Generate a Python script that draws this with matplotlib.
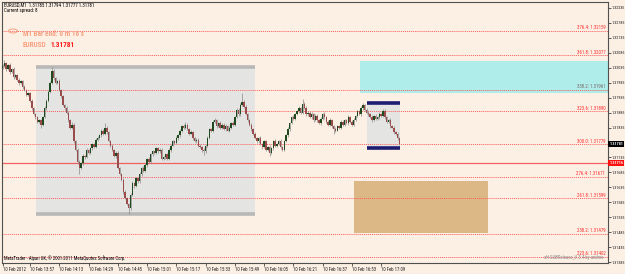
import numpy as np
import matplotlib
matplotlib.use('Agg')
import matplotlib.pyplot as plt
import matplotlib.transforms as mtransforms
from matplotlib import font_manager
from matplotlib.patches import Rectangle

# EURUSD M1, 10 Feb 2012, 13:42 .. 17:19 (one value per bar)
close = [
    1.32040, 1.32050, 1.32030, 1.32045, 1.32020, 1.32030, 1.32005, 1.32010, 1.31995, 1.31985,
    1.31990, 1.31970, 1.31960, 1.31945, 1.31950, 1.31925, 1.31900, 1.31880, 1.31870, 1.31855,
    1.31860, 1.31845, 1.31870, 1.31900, 1.31925, 1.31955, 1.31985, 1.32025, 1.32000, 1.31985,
    1.31990, 1.31960, 1.31940, 1.31910, 1.31900, 1.31885, 1.31860, 1.31835, 1.31845, 1.31790,
    1.31760, 1.31720, 1.31700, 1.31715, 1.31740, 1.31735, 1.31760, 1.31750, 1.31765, 1.31780,
    1.31770, 1.31795, 1.31800, 1.31810, 1.31825, 1.31815, 1.31835, 1.31820, 1.31790, 1.31775,
    1.31760, 1.31740, 1.31750, 1.31700, 1.31680, 1.31660, 1.31620, 1.31600, 1.31580, 1.31565,
    1.31610, 1.31650, 1.31640, 1.31665, 1.31655, 1.31680, 1.31700, 1.31690, 1.31710, 1.31730,
    1.31720, 1.31745, 1.31755, 1.31750, 1.31765, 1.31755, 1.31760, 1.31730, 1.31735, 1.31745,
    1.31730, 1.31760, 1.31775, 1.31790, 1.31785, 1.31800, 1.31810, 1.31825, 1.31840, 1.31835,
    1.31845, 1.31830, 1.31815, 1.31820, 1.31800, 1.31790, 1.31795, 1.31775, 1.31770, 1.31760,
    1.31755, 1.31775, 1.31800, 1.31830, 1.31825, 1.31855, 1.31860, 1.31840, 1.31850, 1.31835,
    1.31845, 1.31830, 1.31840, 1.31825, 1.31835, 1.31850, 1.31845, 1.31870, 1.31895, 1.31880,
    1.31910, 1.31920, 1.31905, 1.31880, 1.31860, 1.31845, 1.31830, 1.31815, 1.31800, 1.31790,
    1.31800, 1.31780, 1.31770, 1.31790, 1.31760, 1.31770, 1.31750, 1.31765, 1.31790, 1.31775,
    1.31780, 1.31790, 1.31770, 1.31760, 1.31790, 1.31810, 1.31830, 1.31850, 1.31870, 1.31865,
    1.31880, 1.31890, 1.31900, 1.31885, 1.31915, 1.31900, 1.31880, 1.31885, 1.31870, 1.31880,
    1.31860, 1.31875, 1.31860, 1.31850, 1.31865, 1.31880, 1.31870, 1.31855, 1.31845, 1.31860,
    1.31840, 1.31830, 1.31825, 1.31840, 1.31835, 1.31855, 1.31845, 1.31860, 1.31850, 1.31870,
    1.31855, 1.31845, 1.31860, 1.31875, 1.31890, 1.31880, 1.31900, 1.31910, 1.31895, 1.31885,
    1.31880, 1.31870, 1.31860, 1.31875, 1.31865, 1.31870, 1.31880, 1.31875, 1.31890, 1.31870,
    1.31855, 1.31860, 1.31840, 1.31835, 1.31820, 1.31815, 1.31800, 1.31781,
]
first_open = 1.32035

# wick lengths above / below the body, in points (1e-5)
upper_wick = [
    6, 11, 5, 4, 7, 3, 6, 5, 4, 6,   5, 4, 6, 3, 5, 4, 6, 5, 3, 4,
    5, 4, 3, 6, 5, 4, 7, 13, 6, 5,   4, 6, 5, 3, 4, 6, 5, 4, 7, 5,
    4, 6, 5, 4, 6, 3, 5, 4, 6, 5,    4, 5, 6, 3, 5, 4, 15, 6, 5, 4,
    5, 4, 6, 5, 3, 4, 6, 5, 4, 3,    6, 5, 4, 6, 3, 5, 4, 6, 5, 4,
    5, 4, 6, 3, 5, 4, 6, 5, 4, 3,    5, 6, 4, 5, 3, 6, 4, 5, 4, 6,
    8, 5, 4, 6, 3, 5, 4, 6, 5, 4,    5, 4, 6, 5, 3, 4, 6, 5, 4, 6,
    5, 4, 6, 3, 5, 4, 6, 5, 4, 6,    8, 30, 6, 5, 4, 3, 5, 4, 6, 5,
    4, 6, 5, 3, 5, 4, 6, 5, 4, 6,    5, 4, 6, 3, 5, 4, 6, 5, 4, 6,
    5, 4, 6, 5, 15, 4, 6, 5, 4, 6,   5, 4, 6, 3, 5, 4, 6, 5, 4, 6,
    5, 4, 6, 3, 5, 4, 6, 5, 4, 6,    5, 4, 6, 3, 5, 4, 6, 7, 4, 6,
    5, 4, 6, 3, 5, 4, 6, 5, 8, 6,    5, 4, 6, 3, 5, 4, 6, 4,
]
lower_wick = [
    5, 4, 6, 3, 5, 4, 6, 5, 4, 6,    4, 5, 3, 6, 4, 5, 6, 4, 5, 6,
    4, 12, 5, 4, 6, 3, 5, 4, 6, 5,   5, 4, 6, 3, 5, 4, 6, 5, 4, 6,
    5, 6, 20, 4, 5, 6, 3, 5, 4, 6,   5, 4, 6, 3, 5, 4, 6, 5, 4, 6,
    4, 5, 6, 3, 5, 4, 6, 5, 4, 19,   5, 4, 6, 3, 5, 4, 6, 5, 4, 6,
    5, 4, 6, 3, 5, 4, 6, 5, 4, 6,    5, 4, 6, 3, 5, 4, 6, 5, 4, 6,
    5, 4, 6, 3, 5, 4, 6, 5, 4, 6,    12, 4, 6, 3, 5, 4, 6, 5, 4, 6,
    5, 4, 6, 3, 5, 4, 6, 5, 4, 6,    5, 4, 6, 3, 5, 4, 6, 5, 4, 6,
    5, 4, 6, 3, 5, 4, 10, 5, 4, 6,   5, 4, 6, 3, 5, 4, 6, 5, 4, 6,
    5, 4, 6, 3, 5, 4, 6, 5, 4, 6,    5, 4, 6, 3, 5, 4, 6, 5, 4, 6,
    5, 15, 6, 3, 5, 4, 6, 5, 4, 6,   5, 4, 6, 3, 5, 4, 6, 5, 4, 6,
    5, 4, 6, 3, 5, 4, 6, 5, 4, 6,    5, 4, 6, 3, 5, 4, 6, 3,
]

# fibo expansion levels drawn by the indicator
fib_names = ["376.4", "361.8", "338.2", "323.6", "300.0", "276.4", "261.8", "238.2", "223.6"]
fib_prices = [1.32159, 1.32077, 1.31961, 1.31890, 1.31779, 1.31671, 1.31599, 1.31479, 1.31402]

# x axis: one label every 16 bars
time_labels = ["10 Feb 2012", "10 Feb 13:57", "10 Feb 14:13", "10 Feb 14:29", "10 Feb 14:45",
               "10 Feb 15:01", "10 Feb 15:17", "10 Feb 15:33", "10 Feb 15:49", "10 Feb 16:05",
               "10 Feb 16:21", "10 Feb 16:37", "10 Feb 16:53", "10 Feb 17:09"]
time_label_bars = [0, 15, 31, 47, 63, 79, 95, 111, 127, 143, 159, 175, 191, 207]

price_ticks = [1.31385, 1.31435, 1.31485, 1.31535, 1.31585, 1.31635, 1.31685, 1.31735,
               1.31785, 1.31835, 1.31885, 1.31935, 1.31985, 1.32035, 1.32085, 1.32135,
               1.32185, 1.32235]

bid_price = 1.31781
red_line_price = 1.31716

# zones: (bar_start, bar_end, price_low, price_high)
range_box = (18.3, 138.0, 1.31546, 1.32038)
small_box = (199.2, 217.2, 1.31766, 1.31917)
cyan_zone = (195.4, 331.0, 1.31950, 1.32058)
tan_zone = (192.1, 265.3, 1.31482, 1.31656)

# MT4 draws with a narrow pixel font, pick the narrowest family we have
installed = {f.name for f in font_manager.fontManager.ttflist}
narrow = 'DejaVu Sans'
for name in ['Liberation Sans Narrow', 'DejaVu Sans Condensed', 'Roboto Condensed']:
    if name in installed:
        narrow = name
        break
plt.rcParams['font.family'] = [narrow, 'DejaVu Sans']

BG = '#fcefe4'
W, H = 625, 274

fig = plt.figure(figsize=(W / 100, H / 100), dpi=100, facecolor=BG)
ax = fig.add_axes([2 / W, 11 / H, 606 / W, 261 / H], facecolor=BG)

ax.set_xlim(-0.3, 331)
ax.set_ylim(1.31382, 1.32255)

# zones first, under the candles
x0, x1, lo, hi = range_box
ax.add_patch(Rectangle((x0, lo), x1 - x0, hi - lo, facecolor='#e4e4e2', edgecolor='none', zorder=1))
ax.hlines([lo, hi], x0, x1, colors='#b8b8b8', linewidth=2.6, zorder=2)

x0, x1, lo, hi = cyan_zone
ax.add_patch(Rectangle((x0, lo), x1 - x0, hi - lo, facecolor='#aeedea', edgecolor='none', zorder=1))

x0, x1, lo, hi = tan_zone
ax.add_patch(Rectangle((x0, lo), x1 - x0, hi - lo, facecolor='#dcb887', edgecolor='none', zorder=1))

x0, x1, lo, hi = small_box
ax.add_patch(Rectangle((x0, lo), x1 - x0, hi - lo, facecolor='#e4e4e2', edgecolor='none', zorder=1))
ax.hlines([lo, hi], x0, x1, colors='#1c1c70', linewidth=2.6, zorder=4)

# fibo lines and their labels
for name, p in zip(fib_names, fib_prices):
    ax.axhline(p, color='#ff5a5a', linewidth=0.7, linestyle=(0, (1, 1)), zorder=2)
    col = '#7a6a6a' if name == "338.2" else '#ff3030'
    ax.text(329.5, p + 0.00002, f"{name}: {p:.5f}", fontsize=3.5, color=col,
            ha='right', va='bottom', zorder=5)

ax.axhline(red_line_price, color='#f06060', linewidth=0.9, zorder=2)

# candles
opens = [first_open] + close[:-1]
bars = np.arange(len(close))
for i, o, c, uw, lw in zip(bars, opens, close, upper_wick, lower_wick):
    top, bot = max(o, c), min(o, c)
    ax.vlines(i, bot - lw * 1e-5, top + uw * 1e-5, color='#8a8a8a', linewidth=0.5, zorder=3)
    col = '#1f4a1f' if c >= o else '#9a4c4c'
    h = max(top - bot, 0.000012)
    ax.add_patch(Rectangle((i - 0.4, bot), 0.8, h, facecolor=col, edgecolor='none', zorder=3))

# axes look
for s in ['left', 'right', 'bottom', 'top']:
    ax.spines[s].set_color('#505050')
    ax.spines[s].set_linewidth(0.8)
ax.yaxis.tick_right()
ax.set_yticks(price_ticks)
# the tick under the bid label is hidden by it in the terminal
ax.set_yticklabels(["" if abs(p - bid_price) < 0.0001 else f"{p:.5f}" for p in price_ticks],
                   fontsize=3.0)
ax.tick_params(axis='y', length=2, width=0.5, pad=0.8, colors='#202020')
ax.set_xticks(time_label_bars)
ax.set_xticklabels(time_labels, fontsize=3.4, ha='left')
ax.tick_params(axis='x', length=2, width=0.5, pad=1, colors='#202020')

# price labels on the axis
trans = mtransforms.blended_transform_factory(ax.transAxes, ax.transData)
for p, box in [(bid_price, 'black'), (red_line_price, '#ff1010')]:
    ax.text(1.0022, p, f"{p:.5f}", transform=trans, fontsize=3.0, color='white',
            va='center', ha='left', fontweight='bold', zorder=10,
            bbox=dict(boxstyle='square,pad=0.2', facecolor=box, edgecolor='none'), clip_on=False)

# header and indicator texts (pixel positions)
def fx(px):
    return px / W

def fy(py):
    return 1 - py / H

fig.text(fx(4), fy(5), "EURUSD,M1  1.31785 1.31794 1.31777 1.31781", fontsize=3.5, color='black', va='center')
fig.text(fx(4), fy(10.5), "Current spread: 8", fontsize=3.5, color='black', va='center')
fig.text(fx(23), fy(34), "M1 Bar end: 0 m 16 s", fontsize=5.2, color='#f6a382', fontweight='bold', va='center')
fig.text(fx(23), fy(45), "EURUSD", fontsize=5.2, color='#f6a382', fontweight='bold', va='center')
fig.text(fx(50), fy(45), "1.31781", fontsize=5.2, color='#ff1a1a', fontweight='bold', va='center')
fig.add_artist(plt.Circle((fx(13), fy(31)), 4.5 / W, transform=fig.transFigure,
                          fill=False, edgecolor='#f6a382', linewidth=0.7))
fig.text(fx(4), fy(258), "MetaTrader - Alpari UK, \u00a9 2001-2011 MetaQuotes Software Corp.",
         fontsize=3.4, color='black', va='center')
fig.text(fx(604), fy(258), "sH-SUBRelease_V.3.4 by andree", fontsize=3.4, color='#8a8a8a',
         va='center', ha='right')

fig.savefig('out.png', dpi=100, facecolor=BG)
